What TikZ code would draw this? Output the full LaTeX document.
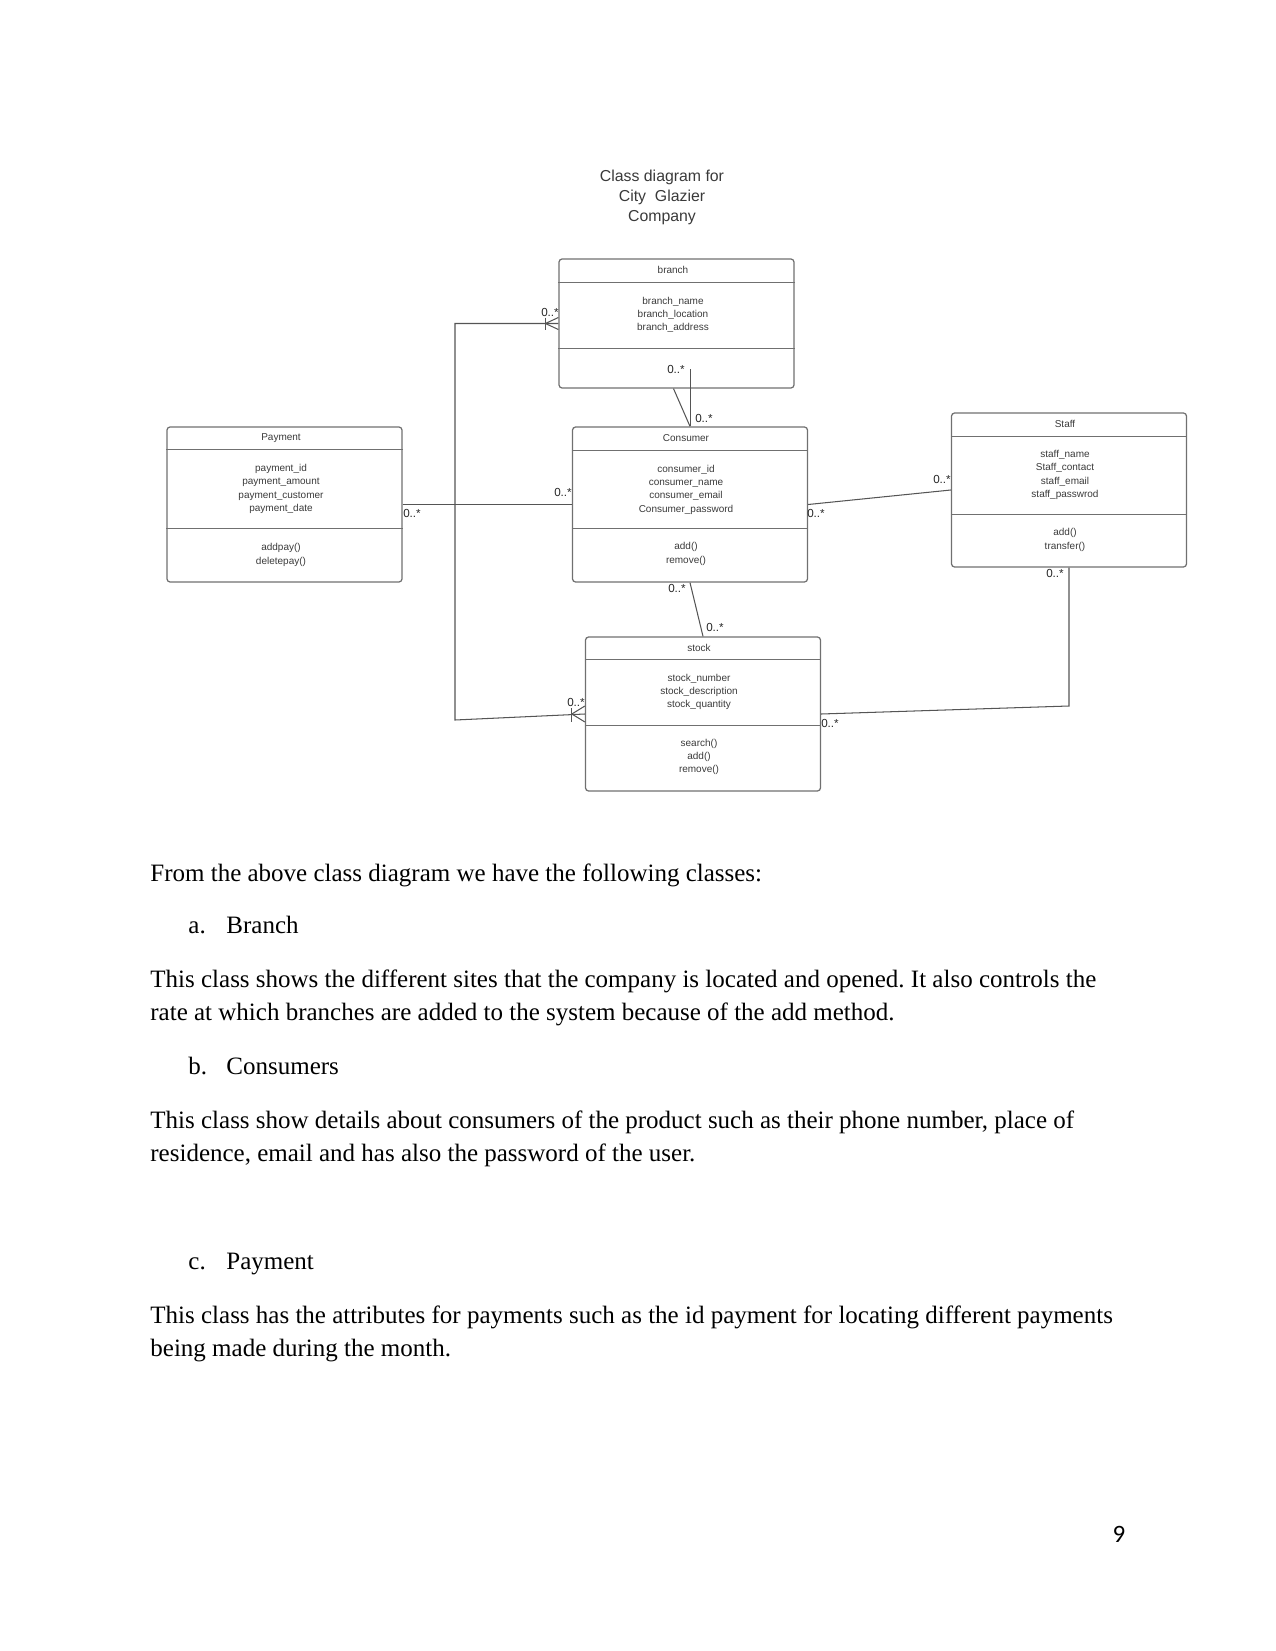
\documentclass[tikz,border=0pt]{standalone}
\usepackage{fontspec}
\setmainfont{Liberation Serif}
\newfontfamily\diagfont{Liberation Sans}
\newfontfamily\numfont{Carlito}
\usepackage{tikz}
\usetikzlibrary{calc}
\frenchspacing
\definecolor{boxline}{RGB}{112,112,112}
\definecolor{boxtext}{RGB}{58,58,58}
\definecolor{connline}{RGB}{85,85,85}
\tikzset{
  cls/.style   ={draw=boxline, line width=0.6pt, rounded corners=1.5pt, minimum width=112.8pt, inner sep=0pt},
  sep/.style   ={draw=boxline, line width=0.6pt},
  ctitle/.style={font=\diagfont\fontsize{4.8}{6}\selectfont, text=boxtext, inner sep=0pt},
  cbody/.style ={font=\diagfont\fontsize{4.8}{6.4}\selectfont, text=boxtext, align=center, inner sep=0pt},
  mult/.style  ={font=\diagfont\fontsize{5.6}{6}\selectfont, text=black!85, inner sep=0pt},
  assoc/.style ={draw=connline, line width=0.5pt},
  para/.style  ={font=\fontsize{12}{14}\selectfont, anchor=base west, inner sep=0pt},
}

\begin{document}
\begin{tikzpicture}[x=0.48pt,y=-0.48pt]
  \useasboundingbox (0,0) rectangle (1275,1651);
  % title
  \node[font=\diagfont\fontsize{7.6}{9.6}\selectfont, text=boxtext, align=center, inner sep=0pt] (title) at (662,197) {Class diagram for\\City~~Glazier\\Company};
  % class boxes
  \node[cls, minimum height=61.92pt] (branch) at (676.5,323.5) {};
  \node[cls, minimum height=74.4pt] (payment) at (284.5,504.5) {};
  \node[cls, minimum height=74.4pt] (consumer) at (690,504.5) {};
  \node[cls, minimum height=73.92pt] (staff) at (1069,490) {};
  \node[cls, minimum height=73.92pt] (stock) at (703,714) {};
  % compartments
  \draw[sep] ($(branch.north west)+(0,24)$) -- ($(branch.north east)+(0,24)$);
  \draw[sep] ($(branch.north west)+(0,90)$) -- ($(branch.north east)+(0,90)$);
  \draw[sep] ($(payment.north west)+(0,23)$) -- ($(payment.north east)+(0,23)$);
  \draw[sep] ($(payment.north west)+(0,102)$) -- ($(payment.north east)+(0,102)$);
  \draw[sep] ($(consumer.north west)+(0,24)$) -- ($(consumer.north east)+(0,24)$);
  \draw[sep] ($(consumer.north west)+(0,102)$) -- ($(consumer.north east)+(0,102)$);
  \draw[sep] ($(staff.north west)+(0,24)$) -- ($(staff.north east)+(0,24)$);
  \draw[sep] ($(staff.north west)+(0,102)$) -- ($(staff.north east)+(0,102)$);
  \draw[sep] ($(stock.north west)+(0,23)$) -- ($(stock.north east)+(0,23)$);
  \draw[sep] ($(stock.north west)+(0,89)$) -- ($(stock.north east)+(0,89)$);
  % class texts
  \node[ctitle] (branchT) at (673,270) {branch};
  \node[cbody] (branchA) at (673,315) {branch\_name\\branch\_location\\branch\_address};
  \node[ctitle] (paymentT) at (281,438) {Payment};
  \node[cbody] (paymentA) at (281,489) {payment\_id\\payment\_amount\\payment\_customer\\payment\_date};
  \node[cbody] (paymentM) at (281,555) {addpay()\\deletepay()};
  \node[ctitle] (consumerT) at (686,438) {Consumer};
  \node[cbody] (consumerA) at (686,489.5) {consumer\_id\\consumer\_name\\consumer\_email\\Consumer\_password};
  \node[cbody] (consumerM) at (686,554) {add()\\remove()};
  \node[ctitle] (staffT) at (1065,424) {Staff};
  \node[cbody] (staffA) at (1065,475) {staff\_name\\Staff\_contact\\staff\_email\\staff\_passwrod};
  \node[cbody] (staffM) at (1065,540) {add()\\transfer()};
  \node[ctitle] (stockT) at (699,648) {stock};
  \node[cbody] (stockA) at (699,692) {stock\_number\\stock\_description\\stock\_quantity};
  \node[cbody] (stockM) at (699,757) {search()\\add()\\remove()};
  % connectors
  \coordinate (leftTop) at (455,323.5);
  \coordinate (leftBot) at (455,720);
  \coordinate (rightBend) at (1069,706);
  \draw[assoc] (branch.west) -- (leftTop) -- (leftBot) -- (stock.west);
  \draw[assoc] ($(branch.west)+(-13,0)$) -- ($(branch.west)+(0,-6)$);
  \draw[assoc] ($(branch.west)+(-13,0)$) -- ($(branch.west)+(0,6)$);
  \draw[assoc] ($(branch.west)+(-13,-6)$) -- ($(branch.west)+(-13,6)$);
  \draw[assoc] ($(stock.west)+(-13,0)$) -- ($(stock.west)+(0,-8)$);
  \draw[assoc] ($(stock.west)+(-13,0)$) -- ($(stock.west)+(0,8)$);
  \draw[assoc] ($(stock.west)+(-13,-6)$) -- ($(stock.west)+(-13,8)$);
  \draw[assoc] (payment.east) -- (consumer.west);
  \draw[assoc] (consumer.east) -- (staff.west);
  \draw[assoc] ($(branch.south)+(-3,0)$) -- (consumer.north);
  \draw[assoc, line width=0.4pt] (consumer.north) -- ++(0,-57);
  \draw[assoc] (consumer.south) -- (stock.north);
  \draw[assoc] (stock.east) -- (rightBend) -- (staff.south);
  % multiplicities
  \node[mult] (mBranchW) at (550,312) {0..*};
  \node[mult] (mBranchS) at (676,369) {0..*};
  \node[mult] (mConsN) at (704,418) {0..*};
  \node[mult] (mPayE) at (412,513) {0..*};
  \node[mult] (mConsW) at (563,492) {0..*};
  \node[mult] (mConsE) at (816,513) {0..*};
  \node[mult] (mStaffW) at (942,479) {0..*};
  \node[mult] (mStaffS) at (1055,573) {0..*};
  \node[mult] (mConsS) at (677,588) {0..*};
  \node[mult] (mStockN) at (715,627) {0..*};
  \node[mult] (mStockW) at (576,702) {0..*};
  \node[mult] (mStockE) at (830,723) {0..*};
  % page text
  \node[para] (intro) at (150,881) {From the above class diagram we have the following classes:};
  \node[para] (itemA) at (188,933) {a.};
  \node[para] (itemAt) at (226,933) {Branch};
  \node[para] (paraA1) at (150,987) {This class shows the different sites that the company is located and opened. It also controls the};
  \node[para] (paraA2) at (150,1020) {rate at which branches are added to the system because of the add method.};
  \node[para] (itemB) at (188,1074) {b.};
  \node[para] (itemBt) at (226,1074) {Consumers};
  \node[para] (paraB1) at (150,1128) {This class show details about consumers of the product such as their phone number, place of};
  \node[para] (paraB2) at (150,1161) {residence, email and has also the password of the user.};
  \node[para] (itemC) at (188,1269) {c.};
  \node[para] (itemCt) at (226,1269) {Payment};
  \node[para] (paraC1) at (150,1323) {This class has the attributes for payments such as the id payment for locating different payments};
  \node[para] (paraC2) at (150,1356) {being made during the month.};
  \node[font=\numfont\fontsize{12}{14}\selectfont, inner sep=0pt] (pagenum) at (1119,1534) {9};
\end{tikzpicture}
\end{document}
